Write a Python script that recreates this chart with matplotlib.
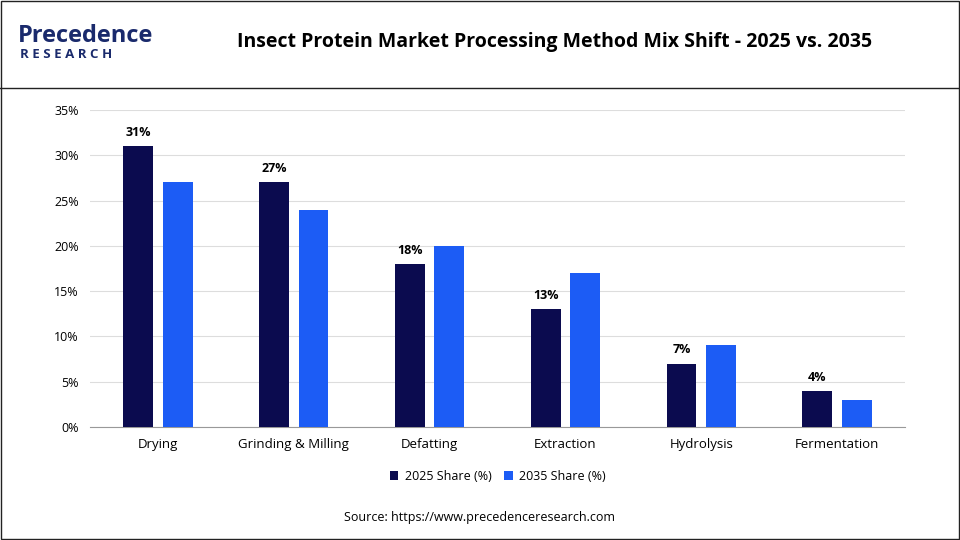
import matplotlib
matplotlib.use("Agg")
import matplotlib.pyplot as plt
import numpy as np

categories = ["Drying", "Grinding & Milling", "Defatting", "Extraction", "Hydrolysis", "Fermentation"]
share_2025 = [31, 27, 18, 13, 7, 4]
share_2035 = [27, 24, 20, 17, 9, 3]
yticks = [0, 5, 10, 15, 20, 25, 30, 35]

plt.rcParams['font.family'] = ['Open Sans', 'DejaVu Sans']
fig = plt.figure(figsize=(9.6, 5.4), dpi=100)
W, H = 960, 540
ax = fig.add_axes([90/W, 1-427/H, (905-90)/W, (427-110)/H])

x = np.arange(len(categories))
w = 0.22
c1, c2 = "#0b0b4f", "#1c5cf5"
b1 = ax.bar(x - 0.145, share_2025, w, color=c1, label="2025 Share (%)", zorder=3)
ax.bar(x + 0.145, share_2035, w, color=c2, label="2035 Share (%)", zorder=3)
for xi, v in zip(x, share_2025):
    ax.text(xi - 0.145, v + 0.8, f"{v}%", ha="center", va="bottom", fontsize=9, fontweight="bold")

ax.set_ylim(0, 35)
ax.set_xlim(-0.5, len(categories) - 0.5)
ax.set_yticks(yticks)
ax.set_yticklabels([f"{t}%" for t in yticks], fontsize=9)
ax.set_xticks(x)
ax.set_xticklabels(categories, fontsize=9.5)
ax.grid(axis="y", color="#dddddd", linewidth=0.8, zorder=0)
for s in ["top", "right", "left"]:
    ax.spines[s].set_visible(False)
ax.spines["bottom"].set_color("#999999")
ax.tick_params(length=0, pad=8)
ax.legend(loc="upper center", bbox_to_anchor=(0.5, -0.1), ncol=2, frameon=False, fontsize=9,
          handlelength=0.7, handleheight=0.7, columnspacing=1.0, handletextpad=0.5)

fig.text(555/W, 1-42/H, "Insect Protein Market Processing Method Mix Shift - 2025 vs. 2035",
         ha="center", va="center", fontsize=14, fontweight="bold")
fig.text(480/W, 1-518/H, "Source: https://www.precedenceresearch.com", ha="center", va="center", fontsize=9)
fig.text(18/W, 1-36/H, "Precedence", ha="left", va="center", fontsize=17, fontweight="bold", color="#1a2a6c")
fig.text(20/W, 1-54/H, "R E S E A R C H", ha="left", va="center", fontsize=9.5, fontweight="bold", color="#1a2a6c")
fig.add_artist(plt.Line2D([0, 1], [1-88/H, 1-88/H], color="#222222", linewidth=1))
fig.add_artist(plt.Rectangle((0.001, 0.001), 0.998, 0.998, fill=False, edgecolor="#222222", linewidth=1))
fig.savefig("out.png", dpi=100)
